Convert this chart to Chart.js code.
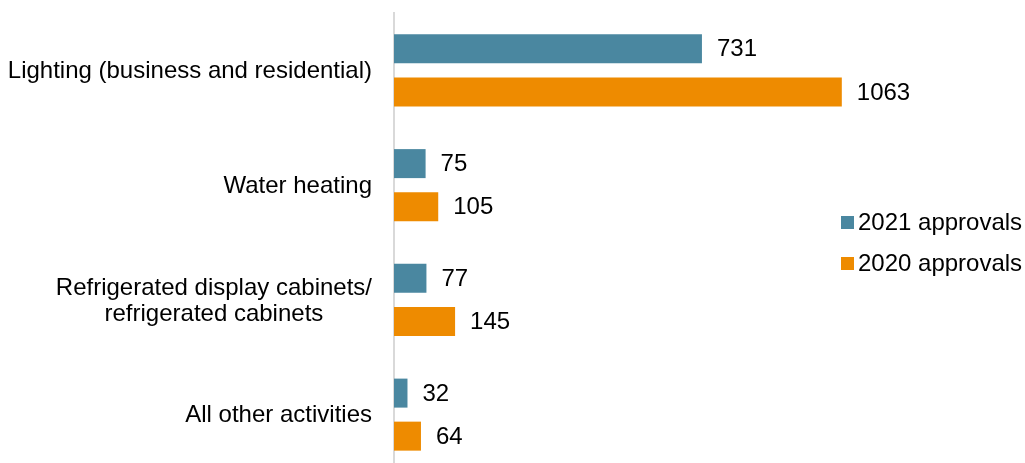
<!DOCTYPE html>
<html>
<head>
<meta charset="utf-8">
<script src="https://cdn.jsdelivr.net/npm/chart.js@4/dist/chart.umd.min.js"></script>
<style>
  html, body { margin: 0; padding: 0; background: #ffffff; }
  body { width: 1025px; height: 463px; overflow: hidden; position: relative; }
  .wrap { position: absolute; left: 0; top: 0; width: 1025px; height: 475px; }
  .legend { position: absolute; left: 841px; top: 0; font-family: 'Liberation Sans', Arial, sans-serif; font-size: 24px; color: #000; }
  .legend-item { position: absolute; left: 0; white-space: nowrap; display: flex; align-items: center; height: 30px; }
  .legend-item span.box { display: inline-block; width: 13px; height: 13px; margin-right: 4px; }
</style>
</head>
<body>
<div class="wrap"><canvas id="chart" width="1025" height="475"></canvas></div>
<div class="legend" id="legend"></div>
<script>
// category labels (multi-line where the source wraps)
const categories = [
  'Lighting (business and residential)',
  'Water heating',
  ['Refrigerated display cabinets/', 'refrigerated cabinets'],
  'All other activities'
];
const seriesNames = ['2021 approvals', '2020 approvals'];
const approvals2021 = [731, 75, 77, 32];
const approvals2020 = [1063, 105, 145, 64];
const seriesColors = ['#4a87a0', '#ee8b00'];

const FONT = "'Liberation Sans', Arial, sans-serif";

// value labels just past the end of each bar
const barValueLabels = {
  id: 'barValueLabels',
  afterDatasetsDraw(chart) {
    const ctx = chart.ctx;
    ctx.save();
    ctx.font = '24px ' + FONT;
    ctx.fillStyle = '#000';
    ctx.textAlign = 'left';
    ctx.textBaseline = 'middle';
    chart.data.datasets.forEach((ds, i) => {
      chart.getDatasetMeta(i).data.forEach((bar, j) => {
        ctx.fillText(String(ds.data[j]), bar.x + 15, bar.y + 1);
      });
    });
    ctx.restore();
  }
};

// category labels: block right-aligned to the axis, lines centred inside the block
const categoryLabels = {
  id: 'categoryLabels',
  afterDraw(chart) {
    const scale = chart.scales.y;
    const ctx = chart.ctx;
    const right = scale.right - 22;
    const lineH = 26;
    ctx.save();
    ctx.font = '24px ' + FONT;
    ctx.fillStyle = '#000';
    ctx.textAlign = 'center';
    ctx.textBaseline = 'middle';
    chart.data.labels.forEach((lbl, i) => {
      const lines = Array.isArray(lbl) ? lbl : [lbl];
      const w = Math.max(...lines.map(l => ctx.measureText(l).width));
      const cx = right - w / 2;
      const y0 = scale.getPixelForTick(i) + 1 - (lines.length - 1) * lineH / 2;
      lines.forEach((l, k) => ctx.fillText(l, cx, y0 + k * lineH));
    });
    ctx.restore();
  }
};

const chart = new Chart(document.getElementById('chart'), {
  type: 'bar',
  data: {
    labels: categories,
    datasets: [
      { label: seriesNames[0], data: approvals2021, backgroundColor: seriesColors[0] },
      { label: seriesNames[1], data: approvals2020, backgroundColor: seriesColors[1] }
    ]
  },
  options: {
    indexAxis: 'y',
    responsive: false,
    animation: false,
    categoryPercentage: 0.75,
    barPercentage: 0.674,
    layout: { padding: { top: 13, right: 5, bottom: 3, left: 0 } },
    plugins: {
      legend: { display: false },
      tooltip: { enabled: false }
    },
    scales: {
      x: {
        display: false,
        min: 0,
        max: 1486
      },
      y: {
        grid: { display: false, drawTicks: false },
        border: { display: true, color: '#d9d9d9', width: 2 },
        ticks: { display: false },
        afterFit(scale) {
          scale.width = 394;
          scale.paddingTop = 0;
          scale.paddingBottom = 0;
        }
      }
    }
  },
  plugins: [barValueLabels, categoryLabels]
});

// html legend built from the datasets
const legendEl = document.getElementById('legend');
const legendTops = [207, 248];
chart.data.datasets.forEach((ds, i) => {
  const item = document.createElement('div');
  item.className = 'legend-item';
  item.style.top = legendTops[i] + 'px';
  item.innerHTML = '<span class="box" style="background:' + ds.backgroundColor + '"></span>' + ds.label;
  legendEl.appendChild(item);
});
</script>
</body>
</html>
